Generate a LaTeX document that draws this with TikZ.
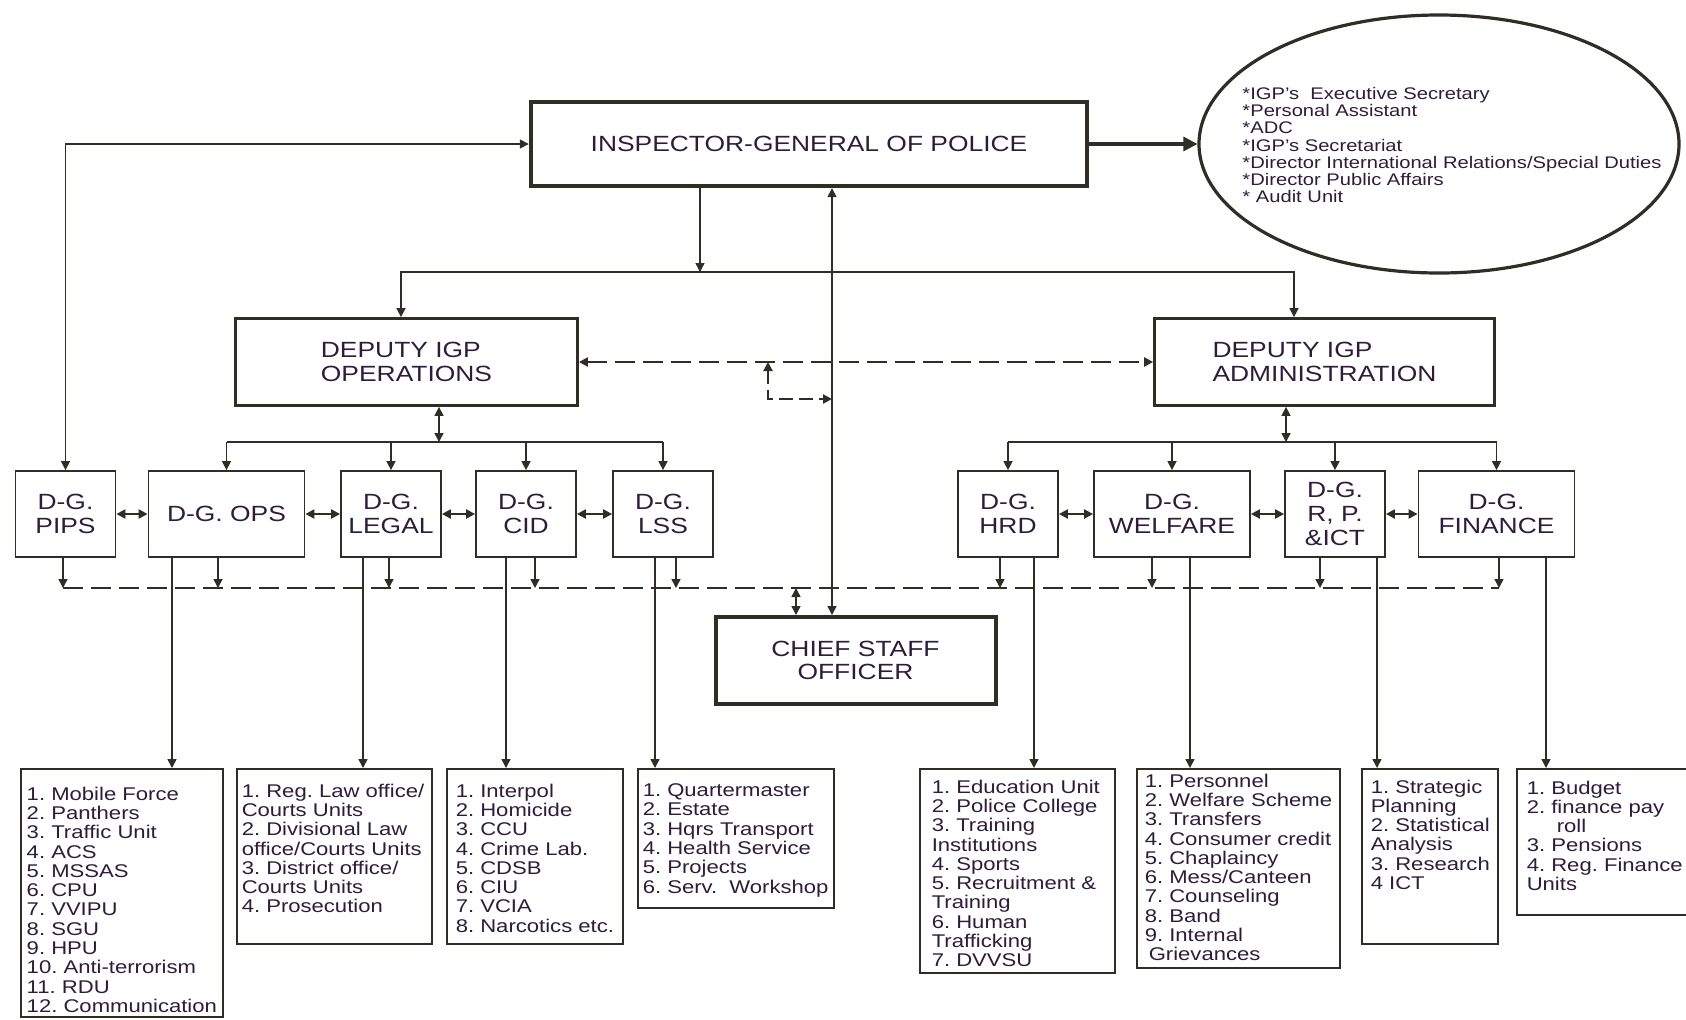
\documentclass[tikz,border=0pt]{standalone}
\usepackage{fontspec}
\setmainfont{Liberation Sans}[FakeStretch=1.2]
\usetikzlibrary{shapes.geometric,arrows.meta,calc,positioning}
\definecolor{inkline}{RGB}{50,45,35}
\definecolor{inktext}{RGB}{48,28,58}
\frenchspacing

\begin{document}
\begin{tikzpicture}[x=0.5pt, y=-0.5pt, >={Triangle[length=4.5pt,width=4.5pt]}, color=inkline, line width=0.75pt,
    every node/.style={text=inktext, inner sep=2pt, align=center, font=\fontsize{11}{11.8}\selectfont},
    box/.style={draw=inkline, rectangle, line width=#1},
    dg/.style={box=0.9pt, minimum height=43pt},
    lst/.style={box=0.9pt, anchor=north west},
    lsttext/.style={anchor=north west, inner sep=0pt, align=left, font=\fontsize{9.2}{9.65}\selectfont},
    dashline/.style={dash pattern=on 10pt off 4pt, line width=1.1pt}]
    \fill[white] (0,0) rectangle (1686,1019);
    \useasboundingbox (0,0) rectangle (1686,1019);

    \node[box=2.2pt, minimum width=278pt, minimum height=42pt] (igp) at (809,144) {INSPECTOR-GENERAL OF POLICE};
    \node[draw=inkline, ellipse, line width=1.6pt, minimum width=240pt, minimum height=129pt] (sec) at (1439,144) {};
    \node[align=left, inner sep=0pt, font=\fontsize{8.4}{8.65}\selectfont] (sectext) at (1452,145) {*IGP's~ Executive Secretary\\*Personal Assistant\\*ADC\\*IGP's Secretariat\\*Director International Relations/Special Duties\\*Director Public Affairs\\* Audit Unit};
    \node[box=1.4pt, minimum width=171pt, minimum height=43.5pt, align=left] (depops) at (406.5,362) {DEPUTY IGP\\OPERATIONS};
    \node[box=1.4pt, minimum width=170pt, minimum height=43.5pt, align=left] (depadm) at (1324.5,362) {DEPUTY IGP\\ADMINISTRATION};
    \node[box=2pt, minimum width=140pt, minimum height=43.5pt] (cso) at (855.5,660.5) {CHIEF STAFF\\OFFICER};

    \node[dg, minimum width=50pt] (pips) at (65.5,514) {D-G.\\PIPS};
    \node[dg, minimum width=78pt] (dgops) at (226.5,514) {D-G. OPS};
    \node[dg, minimum width=50pt] (legal) at (391,514) {D-G.\\LEGAL};
    \node[dg, minimum width=50pt] (cid) at (526,514) {D-G.\\CID};
    \node[dg, minimum width=50pt] (lss) at (663,514) {D-G.\\LSS};
    \node[dg, minimum width=50pt] (hrd) at (1008,514) {D-G.\\HRD};
    \node[dg, minimum width=78pt] (welfare) at (1172,514) {D-G.\\WELFARE};
    \node[dg, minimum width=50pt] (rpict) at (1335,514) {D-G.\\R, P.\\\&ICT};
    \node[dg, minimum width=78pt] (finance) at (1496.5,514) {D-G.\\FINANCE};

    \node[lst, minimum width=101pt, minimum height=124pt] (opslist) at (20,768) {};
    \node[lsttext] (opstext) at (26,786) {1. Mobile Force\\2. Panthers\\3. Traffic Unit\\4. ACS\\5. MSSAS\\6. CPU\\7. VVIPU\\8. SGU\\9. HPU\\10. Anti-terrorism\\11. RDU\\12. Communication};
    \node[lst, minimum width=97.5pt, minimum height=87.5pt] (legallist) at (236,768) {};
    \node[lsttext] (legaltext) at (241,783) {1. Reg. Law office/\\Courts Units\\2. Divisional Law\\office/Courts Units\\3. District office/\\Courts Units\\4. Prosecution};
    \node[lst, minimum width=88pt, minimum height=87.5pt] (cidlist) at (446,768) {};
    \node[lsttext] (cidtext) at (455,783) {1. Interpol\\2. Homicide\\3. CCU\\4. Crime Lab.\\5. CDSB\\6. CIU\\7. VCIA\\8. Narcotics etc.};
    \node[lst, minimum width=98pt, minimum height=69.5pt] (lsslist) at (637,768) {};
    \node[lsttext] (lsstext) at (642,783) {1. Quartermaster\\2. Estate\\3. Hqrs Transport\\4. Health Service\\5. Projects\\6. Serv.~ Workshop};
    \node[lst, minimum width=97.5pt, minimum height=102pt] (hrdlist) at (919,768) {};
    \node[lsttext] (hrdtext) at (931,779) {1. Education Unit\\2. Police College\\3. Training\\Institutions\\4. Sports\\5. Recruitment \&\\Training\\6. Human\\Trafficking\\7. DVVSU};
    \node[lst, minimum width=101.5pt, minimum height=99.5pt] (welflist) at (1136,768) {};
    \node[lsttext] (welftext) at (1144,773) {1. Personnel\\2. Welfare Scheme\\3. Transfers\\4. Consumer credit\\5. Chaplaincy\\6. Mess/Canteen\\7. Counseling\\8. Band\\9. Internal\\\hspace*{2pt}Grievances};
    \node[lst, minimum width=68pt, minimum height=87.5pt] (rplist) at (1361,768) {};
    \node[lsttext] (rptext) at (1370,779) {1. Strategic\\Planning\\2. Statistical\\Analysis\\3. Research\\4 ICT};
    \node[lst, minimum width=86pt, minimum height=73pt] (finlist) at (1516,768) {};
    \node[lsttext] (fintext) at (1526,780) {1. Budget\\2. finance pay\\\hspace*{15pt}roll\\3. Pensions\\4. Reg. Finance\\Units};

    \draw[<->] (pips.north) |- (igp.west);
    \draw[->, line width=1.6pt, >={Triangle[length=7pt,width=7pt]}] (igp.east) -- (sec.west);
    \coordinate (igpdrop) at (700,272);
    \coordinate (busl) at (401,272);
    \coordinate (busr) at (1294,272);
    \draw[->] (igp.south -| igpdrop) -- (igpdrop);
    \draw[<->] (busl |- depops.north) -- (busl) -- (busr) -- (busr |- depadm.north);
    \coordinate (csoline) at (832,0);
    \draw[<->] (igp.south -| csoline) -- (cso.north -| csoline);
    \draw[dashline, <->] (depops.east) -- (depadm.west);
    \coordinate (loopc) at (768,399);
    \draw[dashline, dash pattern=on 7pt off 3pt, <->] (loopc |- depops.east) -- (loopc) -- (loopc -| csoline);

    \coordinate (opsbus) at (439,442);
    \coordinate (admbus) at (1286,442);
    \draw[<->] (depops.south -| opsbus) -- (opsbus);
    \draw[<->] (depadm.south -| admbus) -- (admbus);
    \draw (dgops.north |- opsbus) -- (lss.north |- opsbus);
    \draw (hrd.north |- admbus) -- (finance.north |- admbus);
    \foreach \n in {dgops,legal,cid,lss}
        \draw[->] (\n.north |- opsbus) -- (\n.north);
    \foreach \n in {hrd,welfare,rpict,finance}
        \draw[->] (\n.north |- admbus) -- (\n.north);
    \foreach \a/\b in {pips/dgops,dgops/legal,legal/cid,cid/lss,hrd/welfare,welfare/rpict,rpict/finance}
        \draw[<->, line width=1.1pt] (\a.east) -- (\b.west);

    \coordinate (dashl) at (63,588);
    \coordinate (dashr) at (1499,588);
    \draw[dashline] (dashl) -- (dashr);
    \foreach \n/\x in {pips/63,dgops/218,legal/389,cid/535,lss/676,hrd/1000,welfare/1152,rpict/1320,finance/1499} {
        \coordinate (d) at (\x,588);
        \draw[->] (\n.south -| d) -- (d);
    }
    \coordinate (csobus) at (796,588);
    \draw[<->] (csobus) -- (csobus |- cso.north);
    \foreach \n/\x/\l in {dgops/172/opslist,legal/363/legallist,cid/506/cidlist,lss/655/lsslist,hrd/1034/hrdlist,welfare/1190/welflist,rpict/1377/rplist,finance/1546/finlist} {
        \coordinate (u) at (\x,0);
        \draw[->] (\n.south -| u) -- (\l.north -| u);
    }
\end{tikzpicture}
\end{document}
